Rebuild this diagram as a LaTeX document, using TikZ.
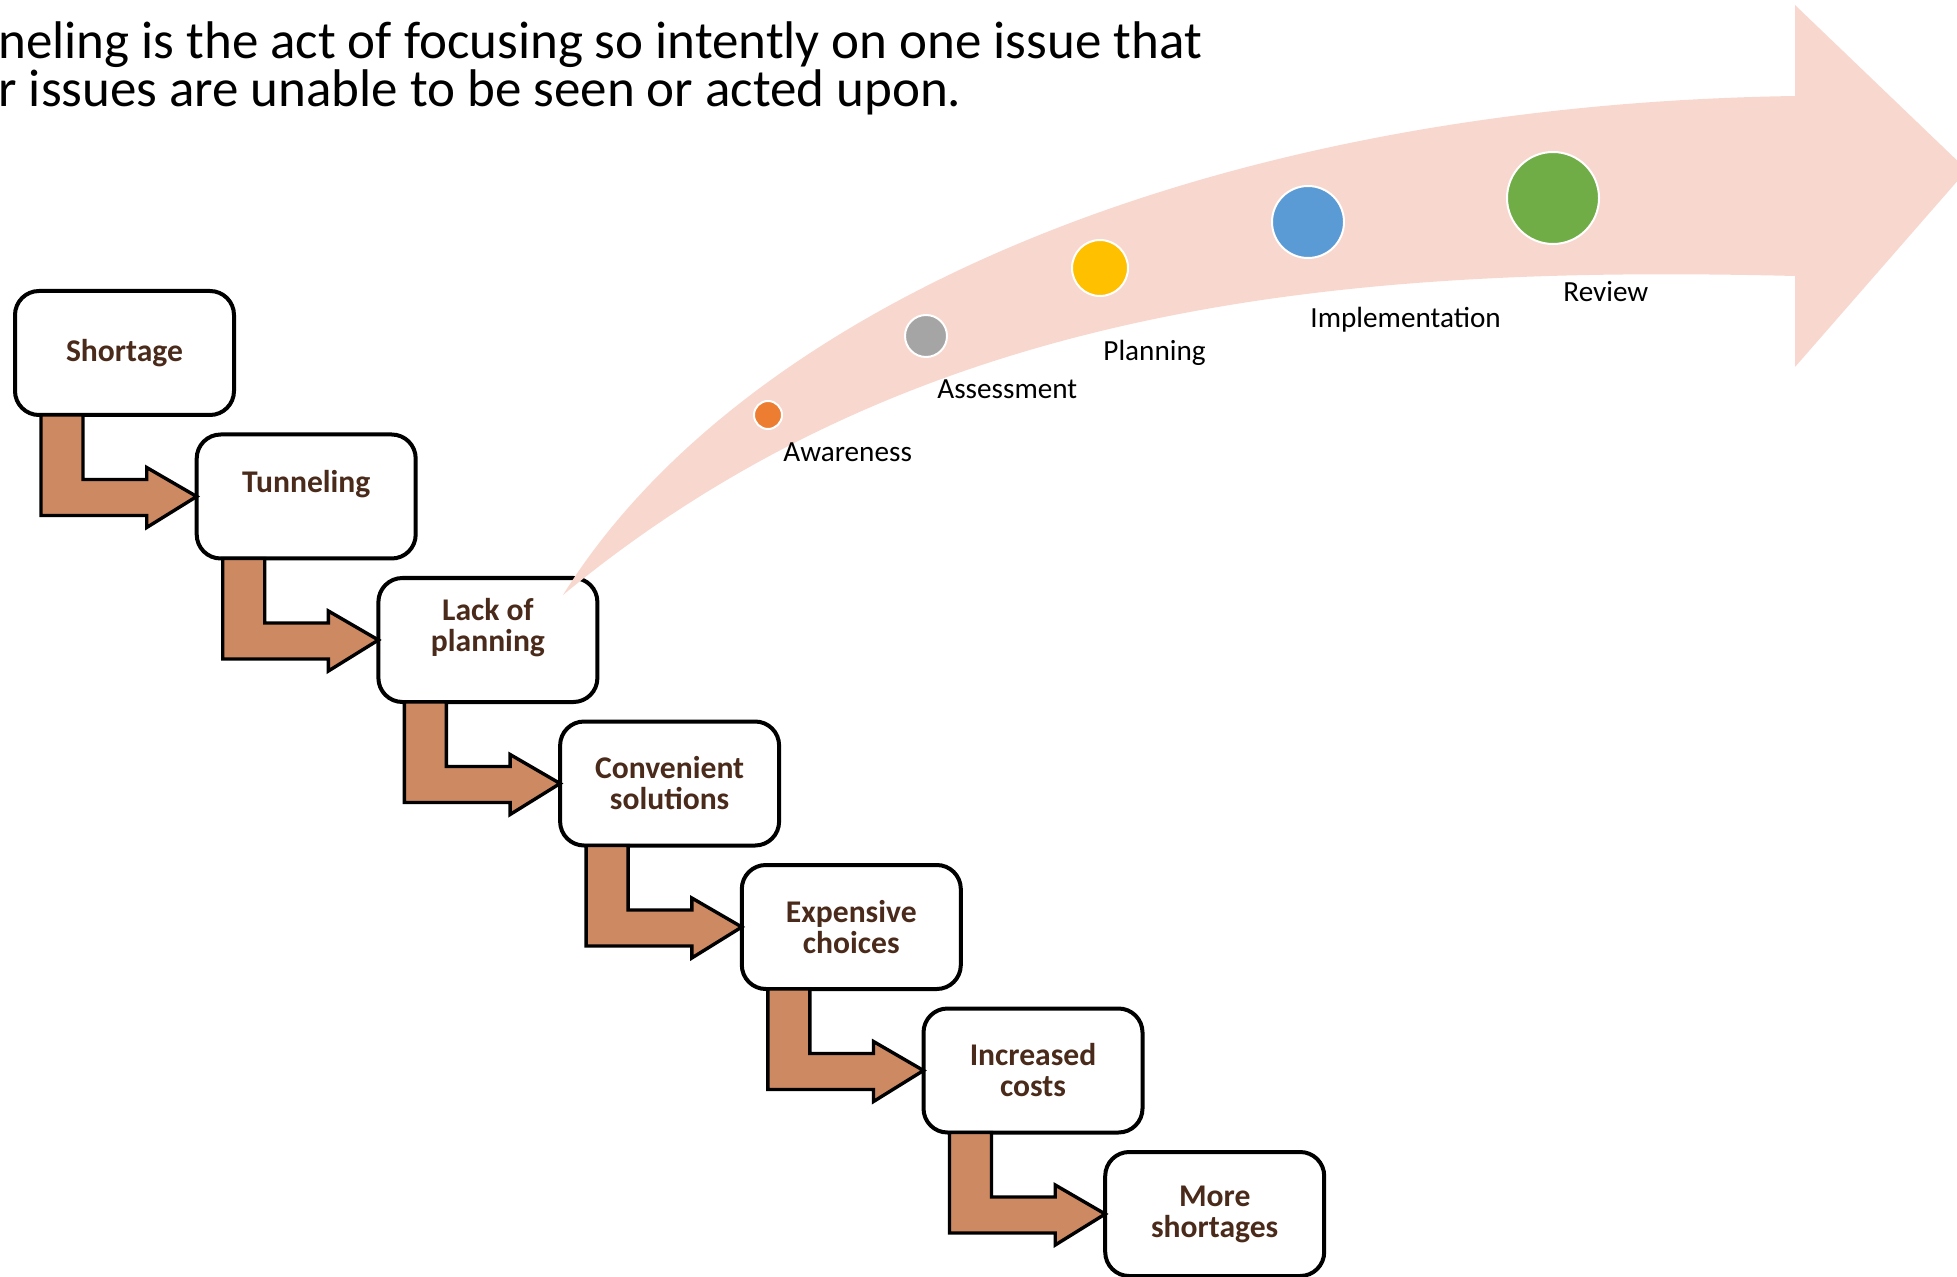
\documentclass[tikz,border=0pt]{standalone}
\usepackage{fontspec}
\setmainfont{Carlito}

\definecolor{stagetext}{RGB}{74,42,26}
\definecolor{flowfill}{RGB}{205,137,98}
\definecolor{bandpink}{RGB}{248,216,206}
\definecolor{dotorange}{RGB}{237,125,49}
\definecolor{dotgray}{RGB}{165,165,165}
\definecolor{dotyellow}{RGB}{255,192,0}
\definecolor{dotblue}{RGB}{91,155,213}
\definecolor{dotgreen}{RGB}{112,173,71}

\begin{document}
\begin{tikzpicture}[x=0.5pt, y=-0.5pt,
    stage/.style={rectangle, rounded corners=12pt, draw, line width=2pt, fill=white,
        minimum width=109.5pt, minimum height=62pt, inner sep=0pt, outer sep=0pt,
        align=center, text=stagetext, font=\bfseries\fontsize{15.8}{15.5}\selectfont},
    flow/.style={draw, line width=1.7pt, fill=flowfill},
    dot/.style={circle, draw=white, line width=1pt, inner sep=0pt},
    phase/.style={anchor=base west, inner sep=0pt, font=\fontsize{14.6}{16}\selectfont},
    heading/.style={anchor=north west, inner sep=0pt, align=left, font=\fontsize{26.5}{22}\selectfont}
]
    \useasboundingbox (0,0) rectangle (1957,1277);

    % Title
    \node[heading] (title) at (-2,21) {neling is the act of focusing so intently on one issue that\\r issues are unable to be seen or acted upon.};

    % Stages
    \node[stage] (shortage) at (124.5,353) {Shortage};
    \node[stage, text depth=15pt] (tunneling) at (306.2,496.5) {Tunneling};
    \node[stage, text depth=15pt] (lack) at (487.9,640) {Lack of\\planning};
    \node[stage] (convenient) at (669.6,783.5) {Convenient\\solutions};
    \node[stage] (expensive) at (851.3,927) {Expensive\\choices};
    \node[stage] (increased) at (1033,1070.5) {Increased\\costs};
    \node[stage] (more) at (1214.7,1214) {More\\shortages};

    % Bent arrows
    \draw[flow] ([xshift=13pt]shortage.south west) |- ([xshift=-25pt,yshift=-9.5pt]tunneling.west) -- ++(0,-6pt) -- (tunneling.west) -- ++(-25pt,14.5pt) -- ++(0,-6pt) -| ([xshift=34pt]shortage.south west) -- cycle;
    \draw[flow] ([xshift=13pt]tunneling.south west) |- ([xshift=-25pt,yshift=-9.5pt]lack.west) -- ++(0,-6pt) -- (lack.west) -- ++(-25pt,14.5pt) -- ++(0,-6pt) -| ([xshift=34pt]tunneling.south west) -- cycle;
    \draw[flow] ([xshift=13pt]lack.south west) |- ([xshift=-25pt,yshift=-9.5pt]convenient.west) -- ++(0,-6pt) -- (convenient.west) -- ++(-25pt,14.5pt) -- ++(0,-6pt) -| ([xshift=34pt]lack.south west) -- cycle;
    \draw[flow] ([xshift=13pt]convenient.south west) |- ([xshift=-25pt,yshift=-9.5pt]expensive.west) -- ++(0,-6pt) -- (expensive.west) -- ++(-25pt,14.5pt) -- ++(0,-6pt) -| ([xshift=34pt]convenient.south west) -- cycle;
    \draw[flow] ([xshift=13pt]expensive.south west) |- ([xshift=-25pt,yshift=-9.5pt]increased.west) -- ++(0,-6pt) -- (increased.west) -- ++(-25pt,14.5pt) -- ++(0,-6pt) -| ([xshift=34pt]expensive.south west) -- cycle;
    \draw[flow] ([xshift=13pt]increased.south west) |- ([xshift=-25pt,yshift=-9.5pt]more.west) -- ++(0,-6pt) -- (more.west) -- ++(-25pt,14.5pt) -- ++(0,-6pt) -| ([xshift=34pt]increased.south west) -- cycle;

    % Way out band
    \fill[bandpink] (563,595) .. controls (740,310) and (1200,105) .. (1795,96)
        -- (1795,5) -- (1967,170) -- (1795,367) -- (1795,276)
        .. controls (1350,265) and (920,300) .. (563,595) -- cycle;

    % Phases
    \node[dot, fill=dotorange, minimum size=14pt] (awareness) at (768,415) {};
    \node[dot, fill=dotgray, minimum size=21pt] (assessment) at (926,336) {};
    \node[dot, fill=dotyellow, minimum size=28pt] (planning) at (1100,268) {};
    \node[dot, fill=dotblue, minimum size=36pt] (implementation) at (1308,222) {};
    \node[dot, fill=dotgreen, minimum size=46pt] (review) at (1553,198) {};

    \node[phase] (awarenesslabel) at (783,462) {Awareness};
    \node[phase] (assessmentlabel) at (937,399) {Assessment};
    \node[phase] (planninglabel) at (1103,361) {Planning};
    \node[phase] (implementationlabel) at (1310,328) {Implementation};
    \node[phase] (reviewlabel) at (1563,302) {Review};
\end{tikzpicture}
\end{document}
